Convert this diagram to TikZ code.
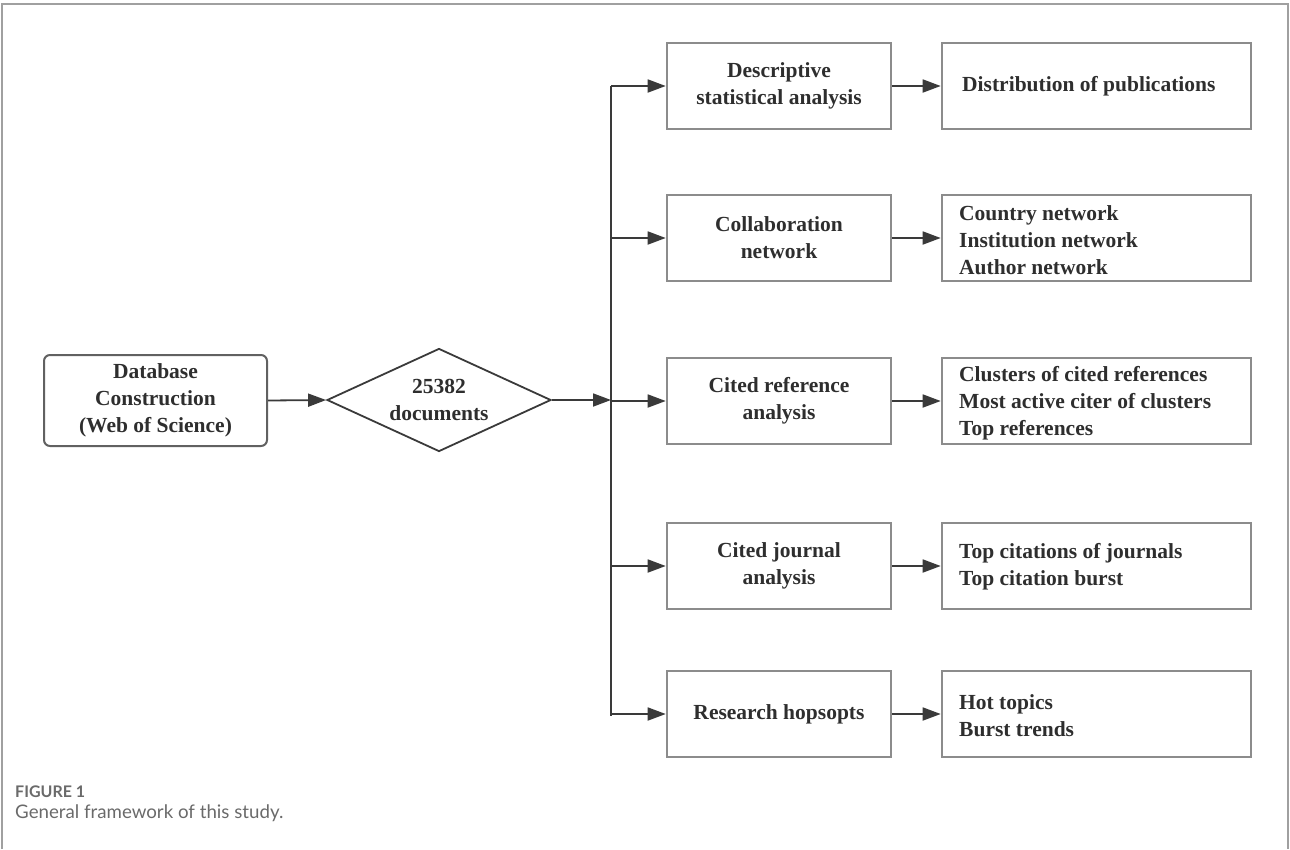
\documentclass[tikz,border=0pt]{standalone}
\usepackage{fontspec}
\setmainfont{Liberation Serif}
\newfontfamily\capfont{Lato}
\usetikzlibrary{arrows.meta,shapes.geometric}
\definecolor{boxgray}{HTML}{8C8C8C}
\definecolor{linegray}{HTML}{3A3A3A}
\definecolor{txt}{HTML}{2E2E2E}
\definecolor{framegray}{HTML}{A0A0A0}
\definecolor{capgray}{HTML}{6A6A6A}
\begin{document}
\begin{tikzpicture}[x=1pt,y=-1pt,
  every node/.style={text=txt, font=\bfseries\fontsize{21.5}{27}\selectfont},
  midbox/.style={draw=boxgray, line width=2.6pt, minimum width=224pt, minimum height=86pt, align=center, inner sep=0pt},
  rightbox/.style={draw=boxgray, line width=2.6pt, minimum width=309pt, minimum height=86pt, align=left, inner sep=0pt},
  rtext/.style={anchor=west, align=left, inner sep=0pt},
  conn/.style={draw=linegray, line width=1.8pt},
  arr/.style={conn, -{Triangle[length=18pt,width=13pt]}},
]
\useasboundingbox (0,0) rectangle (1290,849);
% frame
\draw[framegray, line width=2pt] (2,849) -- (2,4) -- (1288,4) -- (1288,849);

% left box
\node[draw=linegray!80, line width=2pt, rounded corners=6pt, minimum width=223pt, minimum height=91pt, align=center, inner sep=0pt] (db) at (155.5,400.5) {Database\\Construction\\(Web of Science)};
% diamond
\node[draw=linegray, line width=1.8pt, diamond, aspect=2.4, minimum width=224pt, minimum height=103pt, inner sep=0pt, align=center] (dia) at (439,400) {25382\\documents};

% middle boxes
\node[midbox] (m1) at (779,86) {Descriptive\\statistical analysis};
\node[midbox] (m2) at (779,238) {Collaboration\\network};
\node[midbox] (m3) at (779,401) {Cited reference\\analysis};
\node[midbox] (m4) at (779,566) {Cited journal\\analysis};
\node[midbox] (m5) at (779,714) {Research hopsopts};

% right boxes
\node[rightbox] (r1) at (1096.5,86) {};
\node[rightbox] (r2) at (1096.5,238) {};
\node[rightbox] (r3) at (1096.5,401) {};
\node[rightbox] (r4) at (1096.5,566) {};
\node[rightbox] (r5) at (1096.5,714) {};
\node[rtext] (t1) at (962,86) {Distribution of publications};
\node[rtext] (t2) at (959,240) {Country network\\Institution network\\Author network};
\node[rtext] (t3) at (959,403) {Clusters of cited references\\Most active citer of clusters\\Top references};
\node[rtext] (t4) at (959,567) {Top citations of journals\\Top citation burst};
\node[rtext] (t5) at (959,716) {Hot topics\\Burst trends};

% trunk
\coordinate (top) at (611,86);
\coordinate (bot) at (611,716);
\draw[conn] (top) -- (bot);

% connectors
\draw[arr] (db.east) -- (dia.west);
\draw[arr] (dia.east) -- (dia.east -| top);
\foreach \i in {1,...,5}{
  \draw[arr] (m\i.west -| top) -- (m\i.west);
  \draw[arr] (m\i.east) -- (r\i.west);
}

% caption
\node[anchor=base west, inner sep=0pt, text=capgray, font=\capfont\bfseries\fontsize{16}{18}\selectfont] (cap1) at (15,797) {FIGURE 1};
\node[anchor=base west, inner sep=0pt, text=capgray, font=\capfont\fontsize{18.7}{21}\selectfont] (cap2) at (15,818) {General framework of this study.};
\end{tikzpicture}
\end{document}
